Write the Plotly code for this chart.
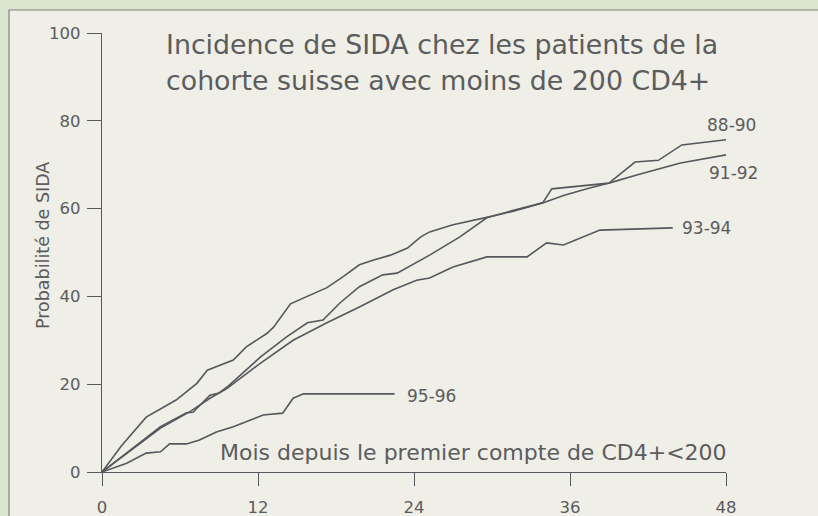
import plotly.graph_objects as go

# ---- data (months since first CD4+ < 200, probability of AIDS %) ----
m_8890 = [0, 1.5, 3.4, 5.7, 7.3, 8.1, 10.1, 11.1, 12.7, 13.2, 14.5, 15.8, 17.3, 18.5, 19.8, 20.9,
          22.2, 23.5, 24.5, 25.2, 27.0, 29.6, 31.5, 33.9, 35.5, 37.3, 39.0, 41.0, 42.8, 44.6, 48.3]
v_8890 = [0, 6.0, 12.5, 16.4, 20.2, 23.2, 25.5, 28.5, 31.6, 33.0, 38.3, 40.0, 42.0, 44.4, 47.2, 48.3,
          49.4, 51.0, 53.5, 54.7, 56.3, 58.0, 59.3, 61.3, 63.0, 64.5, 65.8, 70.6, 71.0, 74.5, 75.8]

m_9192 = [0, 4.5, 6.5, 7.0, 8.3, 9.0, 9.6, 12.2, 14.2, 15.8, 17.0, 18.3, 19.8, 21.6, 22.7, 23.9,
          25.2, 27.5, 29.6, 31.5, 33.9, 34.6, 37.3, 39.0, 41.2, 44.5, 48.3]
v_9192 = [0, 10.3, 13.5, 13.6, 17.5, 18.0, 19.3, 26.2, 30.8, 34.0, 34.6, 38.5, 42.2, 44.9, 45.3, 47.2,
          49.4, 53.5, 57.9, 59.5, 61.3, 64.5, 65.2, 65.8, 67.7, 70.4, 72.4]

m_9394 = [0, 4.5, 6.8, 8.3, 9.6, 12.2, 14.7, 17.3, 19.8, 22.4, 24.2, 25.2, 27.0, 29.6, 32.7, 34.2,
          35.5, 37.3, 38.3, 43.9]
v_9394 = [0, 10.0, 13.8, 16.8, 19.0, 24.8, 30.0, 34.0, 37.6, 41.5, 43.7, 44.2, 46.7, 49.0, 49.0, 52.2,
          51.7, 54.0, 55.1, 55.6]

m_9596 = [0, 1.9, 3.4, 4.5, 5.2, 6.5, 7.5, 8.8, 10.1, 11.9, 12.4, 13.9, 14.7, 15.5, 22.5]
v_9596 = [0, 2.0, 4.3, 4.6, 6.4, 6.4, 7.3, 9.1, 10.3, 12.3, 13.0, 13.4, 16.8, 17.8, 17.8]

series_names = ["88-90", "91-92", "93-94", "95-96"]
x_ticks = [0, 12, 24, 36, 48]
y_ticks = [0, 20, 40, 60, 80, 100]

title_lines = ["Incidence de SIDA chez les patients de la",
               "cohorte suisse avec moins de 200 CD4+"]
x_title = "Mois depuis le premier compte de CD4+<200"
y_title = "Probabilité de SIDA"

# ---- layout geometry (pixels) ----
W, H = 818, 516
L, R, T, B = 102, 726, 33, 472
PW, PH = R - L, B - T


def px(xp):
    return (xp - L) / PW


def py(yp):
    return (B - yp) / PH


FONT = "DejaVu Sans"
TXT = "#5b5c5e"
LINE = "#55585c"

fig = go.Figure()
for name, mx, vy in zip(series_names,
                        [m_8890, m_9192, m_9394, m_9596],
                        [v_8890, v_9192, v_9394, v_9596]):
    fig.add_trace(go.Scatter(x=mx, y=vy, mode="lines", name=name,
                             line=dict(color=LINE, width=1.6),
                             showlegend=False, hoverinfo="skip"))

annotations = []
# series labels
label_pos = {"88-90": (731, 125), "91-92": (733, 173), "93-94": (706, 228), "95-96": (431, 396)}
for name in series_names:
    xp, yp = label_pos[name]
    annotations.append(dict(text=name, x=px(xp), y=py(yp), xref="paper", yref="paper",
                            showarrow=False, xanchor="center", yanchor="middle",
                            font=dict(family=FONT, size=17, color=TXT)))
# title
for i, line in enumerate(title_lines):
    annotations.append(dict(text=line, x=px(164), y=py(62 + 36 * i), xref="paper", yref="paper",
                            showarrow=False, xanchor="left", yanchor="bottom",
                            font=dict(family=FONT, size=26.8, color=TXT)))
# x title
annotations.append(dict(text=x_title, x=px(729), y=py(467), xref="paper", yref="paper",
                        showarrow=False, xanchor="right", yanchor="bottom",
                        font=dict(family=FONT, size=22, color=TXT)))
# y title
annotations.append(dict(text=y_title, x=px(43), y=py(246), xref="paper", yref="paper",
                        showarrow=False, xanchor="center", yanchor="middle", textangle=-90,
                        font=dict(family=FONT, size=17.5, color=TXT)))

shapes = [dict(type="rect", xref="paper", yref="paper", layer="below",
               x0=px(9), x1=px(830), y0=py(530), y1=py(10),
               fillcolor="#efeee7", line=dict(color="#80827a", width=1.2))]

fig.update_layout(
    width=W, height=H,
    margin=dict(l=L, r=W - R, t=T, b=H - B, pad=0),
    paper_bgcolor="#dbe6d0",
    plot_bgcolor="rgba(0,0,0,0)",
    annotations=annotations,
    shapes=shapes,
    xaxis=dict(range=[0, 48], tickvals=x_ticks, ticktext=[str(t) for t in x_ticks],
               showgrid=False, zeroline=False, showline=True, linecolor=LINE, linewidth=1.3,
               ticks="outside", ticklen=13, tickcolor=LINE, tickwidth=1.3,
               ticklabelstandoff=7, automargin=False,
               tickfont=dict(family=FONT, size=16.5, color=TXT), fixedrange=True),
    yaxis=dict(range=[0, 100], tickvals=y_ticks, ticktext=[str(t) for t in y_ticks],
               showgrid=False, zeroline=False, showline=True, linecolor=LINE, linewidth=1.3,
               ticks="outside", ticklen=14, tickcolor=LINE, tickwidth=1.3,
               ticklabelstandoff=3, automargin=False,
               tickfont=dict(family=FONT, size=16.5, color=TXT), fixedrange=True),
)

fig.write_html("out.html", config={"displayModeBar": False},
               post_script="document.body.style.margin='0';document.body.style.overflow='hidden';")
